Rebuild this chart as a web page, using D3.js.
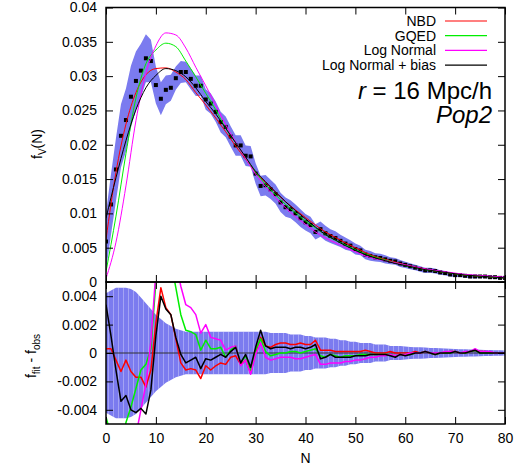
<!DOCTYPE html>
<html>
<head>
<meta charset="utf-8">
<script src="https://cdn.jsdelivr.net/npm/d3@7"></script>
<style>
  body { margin: 0; background: #fff; }
  text { font-family: 'Liberation Sans', Arial, Helvetica, sans-serif; fill: #000; }
</style>
</head>
<body>
<div id="chart"></div>
<script>
// counts-in-cells: observed f_V(N) with 1-sigma band, four fitted models and residuals

const nObs = d3.range(0, 81);        // N = 0..80
const nFit = d3.range(0, 81, 2);     // fit curves read every 2nd N

const obsF = [0.0059,0.0113,0.0164,0.0213,0.0236,0.0270,0.0293,0.0308,0.0326,0.0322,
  0.0287,0.0267,0.0280,0.0283,0.0297,0.0306,0.0306,0.0296,0.0286,0.0286,
  0.0266,0.0260,0.0248,0.0233,0.0226,0.0212,0.0199,0.0199,0.0184,0.0183,
  0.0158,0.0140,0.0141,0.0135,0.0128,0.0116,0.0109,0.0106,0.0100,0.0093,
  0.0087,0.0083,0.0073,0.0077,0.0071,0.0067,0.0064,0.0060,0.0056,0.0053,
  0.0048,0.0046,0.0040,0.0038,0.0036,0.0035,0.0033,0.0031,0.0030,0.0027,
  0.0025,0.0023,0.0021,0.0019,0.0017,0.0017,0.0016,0.0014,0.0013,0.0011,
  0.0010,0.0010,0.0009,0.0008,0.0008,0.0008,0.0008,0.0007,0.0007,0.0006,0.0006];

const sigma = [0.0042,0.0044,0.0046,0.0046,0.0046,0.0045,0.0043,0.0039,0.0035,0.0031,
  0.0027,0.0024,0.0021,0.0019,0.0017,0.0016,0.0015,0.0015,0.0015,0.0015,
  0.0015,0.0015,0.0015,0.0015,0.0015,0.0015,0.0015,0.0015,0.0015,0.0015,
  0.0015,0.0015,0.0015,0.0014,0.0014,0.0014,0.0014,0.0013,0.0013,0.0013,
  0.0012,0.0012,0.0011,0.0011,0.0011,0.0010,0.0010,0.0009,0.0009,0.0008,
  0.0008,0.0007,0.0007,0.0007,0.0006,0.0006,0.0006,0.0005,0.0005,0.0005,
  0.00045,0.00043,0.0004,0.0004,0.00038,0.00036,0.00035,0.00033,0.00032,0.0003,
  0.00028,0.00027,0.00026,0.00025,0.00024,0.00023,0.00022,0.00021,0.0002,0.00019,0.00018];

const fitNBD = [0.0062,0.0160,0.0230,0.0276,0.0302,0.0311,0.0312,0.0306,0.0295,0.0276,
  0.0258,0.0239,0.0219,0.0198,0.0179,0.0160,0.0145,0.0131,0.0117,0.0105,
  0.0094,0.0083,0.0073,0.0065,0.0057,0.0050,0.0043,0.0037,0.0033,0.0029,
  0.0025,0.0022,0.0019,0.0016,0.0014,0.0012,0.0010,0.0009,0.0008,0.0007,0.0006];

const fitGQED = [0.0015,0.0096,0.0187,0.0268,0.0318,0.0338,0.0348,0.0343,0.0322,0.0299,
  0.0275,0.0251,0.0224,0.0203,0.0181,0.0160,0.0142,0.0127,0.0113,0.0101,
  0.0089,0.0079,0.0069,0.0061,0.0054,0.0047,0.0041,0.0036,0.0032,0.0028,
  0.0024,0.0021,0.0018,0.0016,0.0014,0.0012,0.0010,0.0009,0.0008,0.0007,0.0006];

const fitLN = [0.0005,0.0058,0.0140,0.0235,0.0304,0.0344,0.0363,0.0360,0.0341,0.0313,
  0.0286,0.0258,0.0229,0.0204,0.0180,0.0157,0.0139,0.0123,0.0108,0.0095,
  0.0084,0.0073,0.0064,0.0057,0.0050,0.0044,0.0038,0.0034,0.0031,0.0028,
  0.0025,0.0022,0.0019,0.0017,0.0015,0.0013,0.0011,0.0010,0.0009,0.0008,0.0007];

const fitLNbias = [0.0093,0.0152,0.0206,0.0251,0.0283,0.0301,0.0311,0.0308,0.0299,0.0283,
  0.0263,0.0245,0.0224,0.0203,0.0182,0.0161,0.0146,0.0131,0.0117,0.0104,
  0.0092,0.0080,0.0069,0.0061,0.0053,0.0046,0.0040,0.0035,0.0031,0.0027,
  0.0024,0.0021,0.0018,0.0016,0.0014,0.0012,0.0010,0.0009,0.0008,0.0007,0.0006];

// residuals f_fit - f_obs at every N
const residNBD = [0.0003,0.0003,-0.0005,-0.0013,-0.0005,-0.0013,-0.0017,-0.0017,-0.0024,-0.0012,
  0.0021,0.0046,0.0032,0.0027,0.0010,-0.0007,-0.0012,-0.0011,-0.0012,-0.0018,
  -0.0009,-0.0012,-0.0009,-0.0007,-0.0008,-0.0003,-0.0002,-0.0008,-0.0005,-0.0014,
  0.0000,0.0011,0.0005,0.0004,0.0006,0.0007,0.0007,0.0006,0.0006,0.0007,
  0.0006,0.0006,0.0009,0.0002,0.0002,0.0002,0.0001,0.0001,0.0001,0.0001,
  0.0001,0.0001,0.0002,0.0001,0.0000,0.0000,0.0000,0.0001,0.0000,0.0000,
  0.0000,0.0000,0.0001,0.0000,0.0001,0.0000,-0.0001,0.0000,0.0000,0.0001,
  0.0001,0.0000,0.0000,0.0001,0.0002,0.0001,0.0001,0.0000,0.0000,0.0000,0.0000];

const residGQED = [-0.0045,-0.0058,-0.0068,-0.0066,-0.0049,-0.0038,-0.0025,-0.0012,-0.0008,0.0003,
  0.0050,0.0080,0.0068,0.0065,0.0046,0.0027,0.0016,0.0015,0.0013,0.0002,
  0.0009,0.0003,0.0003,0.0004,-0.0003,0.0002,0.0005,-0.0007,-0.0002,-0.0012,
  0.0002,0.0010,0.0001,-0.0002,-0.0001,0.0000,0.0000,0.0001,0.0001,0.0000,
  0.0001,0.0002,0.0003,-0.0002,-0.0003,-0.0001,-0.0002,-0.0003,-0.0002,-0.0002,
  -0.0002,-0.0001,-0.0001,-0.0001,-0.0001,-0.0001,-0.0001,-0.0001,-0.0002,-0.0001,
  -0.0001,-0.0001,0.0000,0.0000,0.0001,0.0000,-0.0001,0.0000,0.0000,0.0000,
  0.0001,0.0000,0.0000,0.0001,0.0002,0.0000,0.0000,0.0000,0.0000,0.0000,0.0000];

const residLN = [-0.0054,-0.0085,-0.0106,-0.0120,-0.0096,-0.0080,-0.0058,-0.0040,-0.0022,0.0008,
  0.0057,0.0092,0.0083,0.0080,0.0064,0.0047,0.0034,0.0032,0.0027,0.0014,
  0.0020,0.0011,0.0010,0.0009,0.0002,0.0004,0.0005,-0.0009,-0.0005,-0.0015,
  -0.0001,0.0007,-0.0003,-0.0005,-0.0004,-0.0003,-0.0003,-0.0003,-0.0004,-0.0004,
  -0.0003,-0.0002,-0.0001,-0.0008,-0.0008,-0.0007,-0.0007,-0.0007,-0.0006,-0.0006,
  -0.0005,-0.0005,-0.0004,-0.0003,-0.0003,-0.0002,-0.0002,-0.0001,-0.0002,-0.0001,
  -0.0001,0.0000,0.0000,0.0000,0.0001,0.0000,0.0000,0.0000,0.0001,0.0001,
  0.0001,0.0000,0.0001,0.0001,0.0003,0.0001,0.0001,0.0001,0.0000,0.0000,0.0000];

const residLNbias = [0.0034,0.0012,-0.0012,-0.0034,-0.0030,-0.0040,-0.0042,-0.0039,-0.0043,-0.0026,
  0.0012,0.0040,0.0031,0.0027,0.0011,-0.0001,-0.0007,-0.0005,-0.0003,-0.0011,
  -0.0004,-0.0005,-0.0003,-0.0001,-0.0003,0.0001,0.0004,-0.0007,-0.0001,-0.0010,
  0.0004,0.0016,0.0005,0.0003,0.0004,0.0004,0.0004,0.0003,0.0004,0.0004,
  0.0003,0.0004,0.0006,-0.0004,-0.0003,-0.0001,-0.0003,-0.0003,-0.0003,-0.0003,
  -0.0002,-0.0002,-0.0002,-0.0001,-0.0001,-0.0001,-0.0001,-0.0002,-0.0003,-0.0001,
  -0.0002,-0.0001,0.0000,0.0000,0.0001,0.0000,-0.0001,0.0000,0.0000,0.0000,
  0.0001,0.0000,0.0000,0.0001,0.0002,0.0000,0.0000,0.0000,0.0000,0.0000,0.0000];

const modelNames  = ['NBD', 'GQED', 'Log Normal', 'Log Normal + bias'];
const modelColors = ['#ff0000', '#00ee00', '#ff00ff', '#000000'];
const fitSeries   = [fitNBD, fitGQED, fitLN, fitLNbias];
const residSeries = [residNBD, residGQED, residLN, residLNbias];

const xTicks    = [0, 10, 20, 30, 40, 50, 60, 70, 80];
const yTopTicks = [0, 0.005, 0.01, 0.015, 0.02, 0.025, 0.03, 0.035, 0.04];
const yBotTicks = [-0.004, -0.002, 0, 0.002, 0.004];

// layout
const width = 532, height = 471;
const left = 106, right = 505;
const top0 = 7.5, mid = 282, bottom = 424;
const bandColor = '#7b7bef';

const x    = d3.scaleLinear().domain([0, 80]).range([left, right]);
const yTop = d3.scaleLinear().domain([0, 0.04]).range([mid, top0]);
const yBot = d3.scaleLinear().domain([-0.005, 0.005]).range([bottom, mid]);

const svg = d3.select('#chart')
    .append('svg')
      .attr('width', width)
      .attr('height', height);

const defs = svg.append('defs');
defs.append('clipPath').attr('id', 'clipTop')
  .append('rect').attr('x', left).attr('y', top0).attr('width', right - left).attr('height', mid - top0);
defs.append('clipPath').attr('id', 'clipBot')
  .append('rect').attr('x', left).attr('y', mid).attr('width', right - left).attr('height', bottom - mid);

// ---------- top panel ----------
const topG = svg.append('g').attr('clip-path', 'url(#clipTop)');

const bandTop = d3.area()
    .x((d, i) => x(nObs[i]))
    .y0((d, i) => yTop(d - sigma[i]))
    .y1((d, i) => yTop(d + sigma[i]));

topG.append('path')
    .attr('d', bandTop(obsF))
    .attr('fill', bandColor);

topG.selectAll('rect.pt')
    .data(obsF)
    .enter()
    .append('rect')
      .attr('class', 'pt')
      .attr('x', (d, i) => x(nObs[i]) - 2)
      .attr('y', d => yTop(d) - 2)
      .attr('width', 4)
      .attr('height', 4)
      .attr('fill', '#000');

const fitLine = d3.line()
    .x((d, i) => x(nFit[i]))
    .y(d => yTop(d))
    .curve(d3.curveMonotoneX);

fitSeries.forEach((s, k) => {
    topG.append('path')
        .attr('d', fitLine(s))
        .attr('fill', 'none')
        .attr('stroke', modelColors[k])
        .attr('stroke-width', 1);
});

// ---------- bottom panel ----------
const botG = svg.append('g').attr('clip-path', 'url(#clipBot)');

const bandBot = d3.area()
    .x((d, i) => x(nObs[i]))
    .y0(d => yBot(-d))
    .y1(d => yBot(d));

defs.append('clipPath').attr('id', 'clipBand')
  .append('path').attr('d', bandBot(sigma));

botG.append('path')
    .attr('d', bandBot(sigma))
    .attr('fill', bandColor);

// faint vertical stripes inside the band
botG.append('g')
    .attr('clip-path', 'url(#clipBand)')
  .selectAll('line')
  .data(nObs)
  .enter()
  .append('line')
    .attr('x1', d => Math.round(x(d + 0.5)) + 0.5)
    .attr('x2', d => Math.round(x(d + 0.5)) + 0.5)
    .attr('y1', mid)
    .attr('y2', bottom)
    .attr('stroke', '#ffffff')
    .attr('stroke-opacity', 0.3);

botG.append('line')
    .attr('x1', left).attr('x2', right)
    .attr('y1', yBot(0)).attr('y2', yBot(0))
    .attr('stroke', '#333')
    .attr('stroke-width', 1);

const residLine = d3.line()
    .x((d, i) => x(nObs[i]))
    .y(d => yBot(d));

residSeries.forEach((s, k) => {
    botG.append('path')
        .attr('d', residLine(s))
        .attr('fill', 'none')
        .attr('stroke', modelColors[k])
        .attr('stroke-width', 1.5)
        .attr('stroke-linejoin', 'round');
});

// ---------- axes ----------
const tick = 7;
const fmt = d => d === 0 ? '0' : String(+d.toFixed(3));

const styleAxis = g => {
    g.select('.domain').remove();
    g.selectAll('line').attr('stroke', '#000');
    g.selectAll('text')
        .style('font-family', "'Liberation Sans', Arial, sans-serif")
        .style('font-size', '14px')
        .attr('fill', '#000');
};

svg.append('g').attr('transform', `translate(${left},0)`)
    .call(d3.axisLeft(yTop).tickValues(yTopTicks).tickSize(-tick).tickPadding(9).tickFormat(fmt))
    .call(styleAxis);
svg.append('g').attr('transform', `translate(${right},0)`)
    .call(d3.axisRight(yTop).tickValues(yTopTicks).tickSize(-tick).tickFormat(''))
    .call(styleAxis);
svg.append('g').attr('transform', `translate(0,${top0})`)
    .call(d3.axisTop(x).tickValues(xTicks).tickSize(-tick).tickFormat(''))
    .call(styleAxis);
svg.append('g').attr('transform', `translate(0,${mid})`)
    .call(d3.axisBottom(x).tickValues(xTicks).tickSize(-tick).tickFormat(''))
    .call(styleAxis);

svg.append('g').attr('transform', `translate(${left},0)`)
    .call(d3.axisLeft(yBot).tickValues(yBotTicks).tickSize(-tick).tickPadding(9).tickFormat(fmt))
    .call(styleAxis);
svg.append('g').attr('transform', `translate(${right},0)`)
    .call(d3.axisRight(yBot).tickValues(yBotTicks).tickSize(-tick).tickFormat(''))
    .call(styleAxis);
svg.append('g').attr('transform', `translate(0,${mid})`)
    .call(d3.axisTop(x).tickValues(xTicks).tickSize(-tick).tickFormat(''))
    .call(styleAxis);
svg.append('g').attr('transform', `translate(0,${bottom})`)
    .call(d3.axisBottom(x).tickValues(xTicks).tickSize(-tick).tickPadding(9).tickFormat(d3.format('d')))
    .call(styleAxis);

// frames
[[top0, mid], [mid, bottom]].forEach(([a, b]) => {
    svg.append('rect')
        .attr('x', left).attr('y', a)
        .attr('width', right - left).attr('height', b - a)
        .attr('fill', 'none')
        .attr('stroke', '#000')
        .attr('stroke-width', 1.5);
});

// axis titles
svg.append('text')
    .attr('x', (left + right) / 2)
    .attr('y', 463)
    .attr('text-anchor', 'middle')
    .style('font-size', '14px')
    .text('N');

const yt1 = svg.append('text')
    .attr('transform', 'translate(37,144) rotate(-90)')
    .attr('text-anchor', 'middle')
    .attr('dy', '0.35em')
    .style('font-size', '14px');
yt1.append('tspan').text('f');
yt1.append('tspan').attr('dy', 4).style('font-size', '10px').text('V');
yt1.append('tspan').attr('dy', -4).text('(N)');

const yt2 = svg.append('text')
    .attr('transform', 'translate(31,356) rotate(-90)')
    .attr('text-anchor', 'middle')
    .attr('dy', '0.35em')
    .style('font-size', '14px');
yt2.append('tspan').text('f');
yt2.append('tspan').attr('dy', 4).style('font-size', '10px').text('fit');
yt2.append('tspan').attr('dy', -4).text(' - f');
yt2.append('tspan').attr('dy', 4).style('font-size', '10px').text('obs');

// legend
const legendY = i => 21 + i * 14.7;

svg.selectAll('text.legend')
    .data(modelNames)
    .enter()
    .append('text')
      .attr('class', 'legend')
      .attr('x', 436)
      .attr('y', (d, i) => legendY(i) + 5)
      .attr('text-anchor', 'end')
      .style('font-size', '14px')
      .text(d => d);

svg.selectAll('line.legend')
    .data(modelColors)
    .enter()
    .append('line')
      .attr('class', 'legend')
      .attr('x1', 445).attr('x2', 487)
      .attr('y1', (d, i) => legendY(i)).attr('y2', (d, i) => legendY(i))
      .style('stroke', d => d)
      .style('stroke-width', 1.2);

// annotation
const rLabel = svg.append('text')
    .attr('x', 492)
    .attr('y', 99)
    .attr('text-anchor', 'end')
    .style('font-size', '24px');
rLabel.append('tspan').style('font-style', 'italic').text('r');
rLabel.append('tspan').text(' = 16 Mpc/h');

svg.append('text')
    .attr('x', 492)
    .attr('y', 123)
    .attr('text-anchor', 'end')
    .style('font-size', '24px')
    .style('font-style', 'italic')
    .text('Pop2');
</script>
</body>
</html>
